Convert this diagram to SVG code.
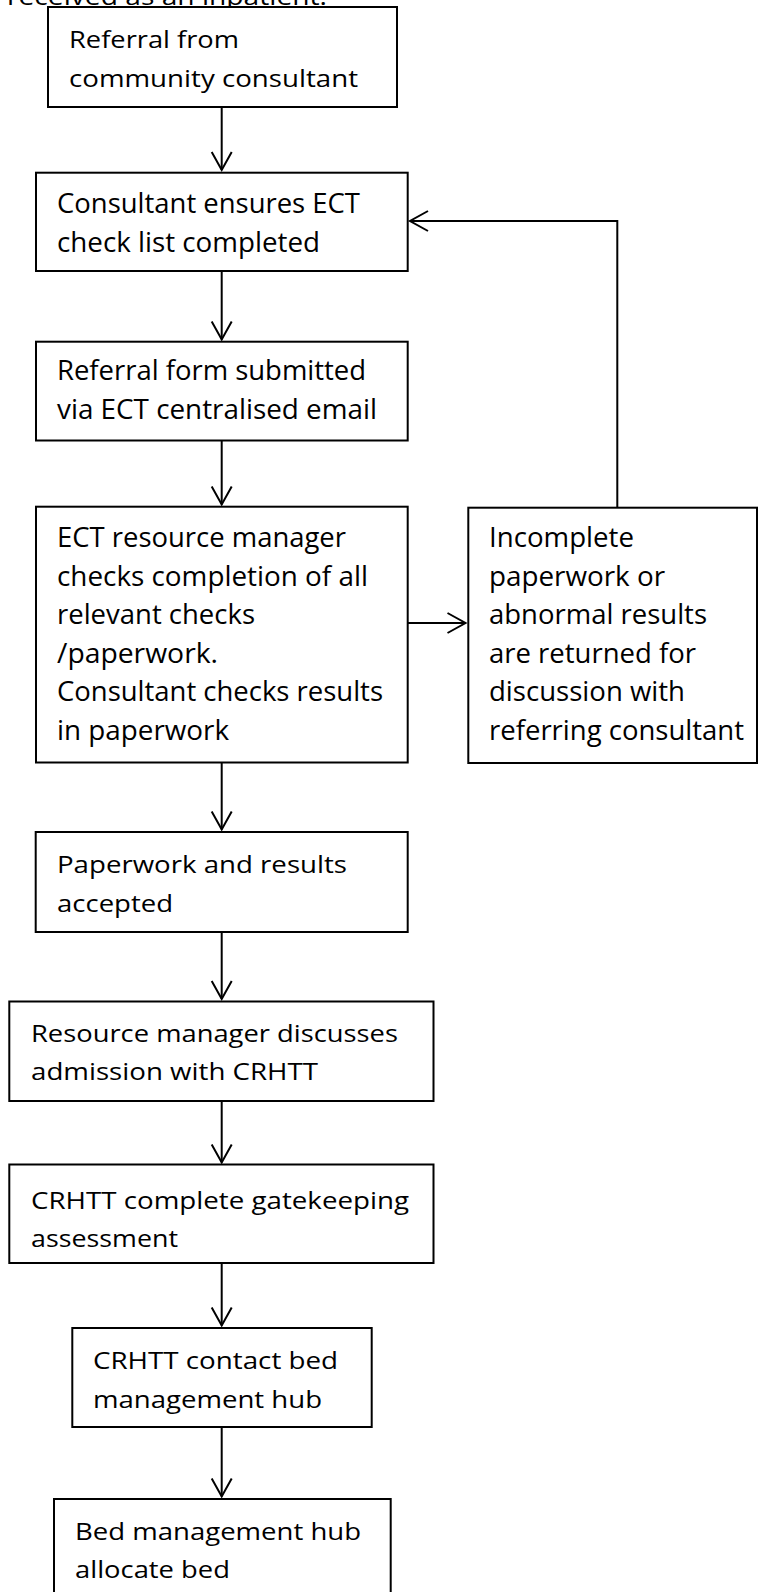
<svg xmlns="http://www.w3.org/2000/svg" width="758" height="1592" viewBox="0 0 758 1592">
  <style>
    .box { fill: #ffffff; stroke: #000000; stroke-width: 2; }
    .lbl { font-family: "Open Sans", "Noto Sans", "Liberation Sans", sans-serif; font-size: 24px; fill: #000000; }
    .tall { font-size: 28px; }
    .edge { fill: none; stroke: #000000; stroke-width: 2; }
  </style>
  <defs>
    <marker id="arrow" markerUnits="userSpaceOnUse" viewBox="-22 -13 26 26" refX="0" refY="0" markerWidth="26" markerHeight="26" orient="auto" overflow="visible">
      <path d="M -18 -10 L 0 0 L -18 10" fill="none" stroke="#000000" stroke-width="2"/>
    </marker>
  </defs>
  <rect x="0" y="0" width="758" height="1592" fill="#ffffff"/>

  <!-- trailing line of the preceding paragraph -->
  <text class="lbl" x="7" y="5" textLength="320" lengthAdjust="spacingAndGlyphs">received as an inpatient.</text>

  <g id="connectors">
    <path class="edge" d="M 221.7 107 L 221.7 170" marker-end="url(#arrow)"/>
    <path class="edge" d="M 221.7 271 L 221.7 339.5" marker-end="url(#arrow)"/>
    <path class="edge" d="M 221.7 440.5 L 221.7 504.5" marker-end="url(#arrow)"/>
    <path class="edge" d="M 407.7 623 L 465.5 623" marker-end="url(#arrow)"/>
    <path class="edge" d="M 617.3 507.7 L 617.3 221 L 410 221" marker-end="url(#arrow)"/>
    <path class="edge" d="M 221.7 762.5 L 221.7 829.5" marker-end="url(#arrow)"/>
    <path class="edge" d="M 221.7 932 L 221.7 999" marker-end="url(#arrow)"/>
    <path class="edge" d="M 221.7 1101 L 221.7 1162.5" marker-end="url(#arrow)"/>
    <path class="edge" d="M 221.7 1263 L 221.7 1325.5" marker-end="url(#arrow)"/>
    <path class="edge" d="M 221.7 1427 L 221.7 1496.5" marker-end="url(#arrow)"/>
  </g>

  <g id="referral">
    <rect class="box" x="48" y="7" width="349" height="100"/>
    <text class="lbl" x="69" y="48.3" textLength="170" lengthAdjust="spacingAndGlyphs">Referral from</text>
    <text class="lbl" x="69" y="87.3" textLength="289" lengthAdjust="spacingAndGlyphs">community consultant</text>
  </g>

  <g id="checklist">
    <rect class="box" x="36" y="172.7" width="371.7" height="98.3"/>
    <text class="lbl tall" x="57" y="213" textLength="303" lengthAdjust="spacingAndGlyphs">Consultant ensures ECT</text>
    <text class="lbl tall" x="57" y="252" textLength="263" lengthAdjust="spacingAndGlyphs">check list completed</text>
  </g>

  <g id="submitted">
    <rect class="box" x="36" y="341.7" width="371.7" height="98.8"/>
    <text class="lbl tall" x="57" y="380" textLength="309" lengthAdjust="spacingAndGlyphs">Referral form submitted</text>
    <text class="lbl tall" x="57" y="419" textLength="320" lengthAdjust="spacingAndGlyphs">via ECT centralised email</text>
  </g>

  <g id="resource-check">
    <rect class="box" x="36" y="506.7" width="371.7" height="255.8"/>
    <text class="lbl tall" x="57" y="547" textLength="289" lengthAdjust="spacingAndGlyphs">ECT resource manager</text>
    <text class="lbl tall" x="57" y="585.5" textLength="311" lengthAdjust="spacingAndGlyphs">checks completion of all</text>
    <text class="lbl tall" x="57" y="624" textLength="198" lengthAdjust="spacingAndGlyphs">relevant checks</text>
    <text class="lbl tall" x="57" y="662.5" textLength="161" lengthAdjust="spacingAndGlyphs">/paperwork.</text>
    <text class="lbl tall" x="57" y="701" textLength="326" lengthAdjust="spacingAndGlyphs">Consultant checks results</text>
    <text class="lbl tall" x="57" y="739.5" textLength="172" lengthAdjust="spacingAndGlyphs">in paperwork</text>
  </g>

  <g id="returned">
    <rect class="box" x="468.3" y="507.7" width="288.7" height="255.3"/>
    <text class="lbl tall" x="489" y="547" textLength="145" lengthAdjust="spacingAndGlyphs">Incomplete</text>
    <text class="lbl tall" x="489" y="585.5" textLength="176" lengthAdjust="spacingAndGlyphs">paperwork or</text>
    <text class="lbl tall" x="489" y="624" textLength="218" lengthAdjust="spacingAndGlyphs">abnormal results</text>
    <text class="lbl tall" x="489" y="662.5" textLength="207" lengthAdjust="spacingAndGlyphs">are returned for</text>
    <text class="lbl tall" x="489" y="701" textLength="196" lengthAdjust="spacingAndGlyphs">discussion with</text>
    <text class="lbl tall" x="489" y="739.5" textLength="255" lengthAdjust="spacingAndGlyphs">referring consultant</text>
  </g>

  <g id="accepted">
    <rect class="box" x="35.7" y="832" width="372" height="100"/>
    <text class="lbl" x="57" y="872.7" textLength="290" lengthAdjust="spacingAndGlyphs">Paperwork and results</text>
    <text class="lbl" x="57" y="911.7" textLength="116" lengthAdjust="spacingAndGlyphs">accepted</text>
  </g>

  <g id="admission">
    <rect class="box" x="9.3" y="1001.5" width="424.2" height="99.5"/>
    <text class="lbl" x="31" y="1041.5" textLength="367" lengthAdjust="spacingAndGlyphs">Resource manager discusses</text>
    <text class="lbl" x="31" y="1080" textLength="287" lengthAdjust="spacingAndGlyphs">admission with CRHTT</text>
  </g>

  <g id="gatekeeping">
    <rect class="box" x="9.3" y="1164.5" width="424.2" height="98.5"/>
    <text class="lbl" x="31" y="1208.5" textLength="378" lengthAdjust="spacingAndGlyphs">CRHTT complete gatekeeping</text>
    <text class="lbl" x="31" y="1246.7" textLength="147" lengthAdjust="spacingAndGlyphs">assessment</text>
  </g>

  <g id="contact-hub">
    <rect class="box" x="72.3" y="1328" width="299.4" height="99"/>
    <text class="lbl" x="93" y="1369" textLength="245" lengthAdjust="spacingAndGlyphs">CRHTT contact bed</text>
    <text class="lbl" x="93" y="1408" textLength="229" lengthAdjust="spacingAndGlyphs">management hub</text>
  </g>

  <g id="allocate">
    <rect class="box" x="54" y="1499" width="336.7" height="110"/>
    <text class="lbl" x="75" y="1540" textLength="286" lengthAdjust="spacingAndGlyphs">Bed management hub</text>
    <text class="lbl" x="75" y="1578" textLength="155" lengthAdjust="spacingAndGlyphs">allocate bed</text>
  </g>
</svg>
